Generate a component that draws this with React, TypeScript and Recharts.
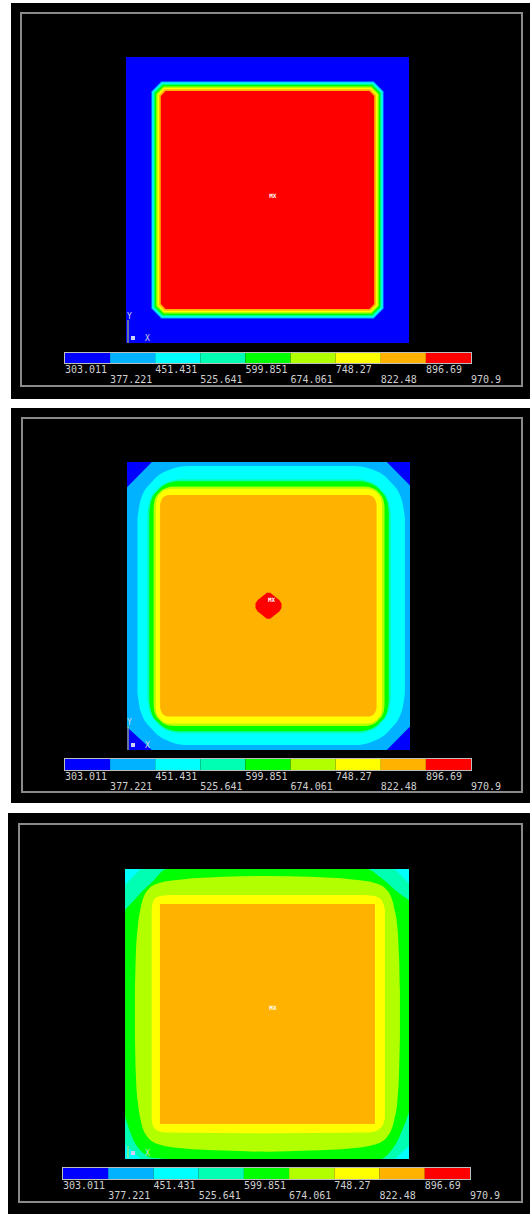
import React from 'react';
import { ComposedChart, Area, XAxis, YAxis, ReferenceDot } from 'recharts';

// contour levels (temperature) and the colour of each band between them
const LEVELS = [303.011, 377.221, 451.431, 525.641, 599.851, 674.061, 748.27, 822.48, 896.69, 970.9];
const LEVEL_LABELS = ['303.011', '377.221', '451.431', '525.641', '599.851', '674.061', '748.27', '822.48', '896.69', '970.9'];
const BAND_COLORS = ['#0000ff', '#00b2ff', '#00ffff', '#00ffb2', '#00ff00', '#b2ff00', '#ffff00', '#ffb200', '#ff0000'];

type Contour = { level: number; curve: 'linear' | 'monotoneX'; pts: number[][] };

// each contour: region where T >= level, given as [x, yLow, yHigh] on a 0..100 plate
const STEP1_CONTOURS: Contour[] = [
  { level: 0, curve: 'linear', pts: [[0, 0, 100], [100, 0, 100]] },
  { level: 1, curve: 'linear', pts: [[9.0, 12.1, 87.9], [12.5, 8.6, 91.4], [87.5, 8.6, 91.4], [91.0, 12.1, 87.9]] },
  { level: 2, curve: 'linear', pts: [[9.3, 12.2, 87.8], [12.6, 8.9, 91.1], [87.4, 8.9, 91.1], [90.7, 12.2, 87.8]] },
  { level: 3, curve: 'linear', pts: [[9.7, 12.4, 87.6], [12.8, 9.3, 90.7], [87.2, 9.3, 90.7], [90.3, 12.4, 87.6]] },
  { level: 4, curve: 'linear', pts: [[10.1, 12.6, 87.4], [13.0, 9.7, 90.3], [87.0, 9.7, 90.3], [89.9, 12.6, 87.4]] },
  { level: 5, curve: 'linear', pts: [[10.7, 12.9, 87.1], [13.3, 10.3, 89.7], [86.7, 10.3, 89.7], [89.3, 12.9, 87.1]] },
  { level: 6, curve: 'linear', pts: [[11.2, 13.1, 86.9], [13.5, 10.8, 89.2], [86.5, 10.8, 89.2], [88.8, 13.1, 86.9]] },
  { level: 7, curve: 'linear', pts: [[11.7, 13.3, 86.7], [13.7, 11.3, 88.7], [86.3, 11.3, 88.7], [88.3, 13.3, 86.7]] },
  { level: 8, curve: 'linear', pts: [[12.3, 13.6, 86.4], [14.0, 11.9, 88.1], [86.0, 11.9, 88.1], [87.7, 13.6, 86.4]] },
];

const STEP2_CONTOURS: Contour[] = [
  { level: 0, curve: 'linear', pts: [[0, 0, 100], [100, 0, 100]] },
  { level: 1, curve: 'linear', pts: [[0, 8.0, 91.2], [8.8, 0, 100], [91.8, 0, 100], [100, 8.2, 91.8]] },
  {
    level: 2, curve: 'monotoneX', pts: [
      [3.7, 19.7, 80.6], [4.8, 13.5, 86.8], [9.0, 7.0, 93.3], [15.5, 2.8, 97.5], [21.7, 1.7, 98.6],
      [80.2, 1.7, 98.6], [86.4, 2.8, 97.5], [92.9, 7.0, 93.3], [97.1, 13.5, 86.8], [98.2, 19.7, 80.6],
    ],
  },
  {
    level: 3, curve: 'monotoneX', pts: [
      [7.2, 17.8, 82.0], [7.9, 13.7, 86.1], [10.7, 9.3, 90.5], [15.1, 6.5, 93.3], [19.2, 5.8, 94.0],
      [81.2, 5.8, 94.0], [85.3, 6.5, 93.3], [89.7, 9.3, 90.5], [92.5, 13.7, 86.1], [93.2, 17.8, 82.0],
    ],
  },
  {
    level: 4, curve: 'monotoneX', pts: [
      [7.9, 17.0, 82.8], [8.5, 13.4, 86.4], [11.0, 9.6, 90.2], [14.8, 7.1, 92.7], [18.4, 6.5, 93.3],
      [82.0, 6.5, 93.3], [85.6, 7.1, 92.7], [89.4, 9.6, 90.2], [91.9, 13.4, 86.4], [92.5, 17.0, 82.8],
    ],
  },
  {
    level: 5, curve: 'monotoneX', pts: [
      [9.4, 15.3, 84.5], [9.8, 12.9, 86.9], [11.5, 10.4, 89.5], [14.0, 8.7, 91.1], [16.4, 8.3, 91.5],
      [84.0, 8.3, 91.5], [86.4, 8.7, 91.1], [88.9, 10.4, 89.5], [90.6, 12.9, 86.9], [91.0, 15.3, 84.5],
    ],
  },
  {
    level: 6, curve: 'monotoneX', pts: [
      [10.2, 14.7, 85.2], [10.5, 12.8, 87.1], [11.8, 10.8, 89.1], [13.8, 9.5, 90.4], [15.7, 9.2, 90.7],
      [84.6, 9.2, 90.7], [86.5, 9.5, 90.4], [88.5, 10.8, 89.1], [89.8, 12.8, 87.1], [90.1, 14.7, 85.2],
    ],
  },
  {
    level: 7, curve: 'monotoneX', pts: [
      [11.7, 14.6, 85.5], [12.6, 12.5, 87.6], [14.7, 11.6, 88.5],
      [85.2, 11.6, 88.5], [87.3, 12.5, 87.6], [88.2, 14.6, 85.5],
    ],
  },
  {
    level: 8, curve: 'linear', pts: [
      [45.4, 49.3, 50.9], [46.2, 48.1, 52.1], [49.4, 45.6, 54.6],
      [50.6, 45.6, 54.6], [53.8, 48.1, 52.1], [54.6, 49.3, 50.9],
    ],
  },
];

const STEP3_CONTOURS: Contour[] = [
  { level: 2, curve: 'linear', pts: [[0, 0, 100], [100, 0, 100]] },
  { level: 3, curve: 'linear', pts: [[0, 5.0, 94.5], [5.5, 0, 100], [95.0, 0, 100], [100, 4.5, 95.0]] },
  {
    level: 4, curve: 'monotoneX', pts: [
      [0, 14.6, 85.9], [3.5, 5.5, 89.6], [6.0, 2.4, 92.2], [9.5, 0.4, 95.4], [14.7, 0, 100],
      [85.1, 0, 100], [89.8, 0, 97.2], [93.5, 2.6, 94.2], [95.5, 5.4, 92.4], [100, 16.0, 89.3],
    ],
  },
  {
    level: 5, curve: 'monotoneX', pts: [
      [3.5, 42, 58], [3.8, 30, 70], [4.5, 20, 80], [5.5, 13.5, 86.5], [8.0, 7.5, 92.8], [12, 5.0, 95.2],
      [20, 3.7, 96.4], [35, 2.9, 97.3], [50, 2.5, 97.6], [65, 2.9, 97.3], [80, 3.7, 96.4], [88, 5.0, 95.2],
      [92.2, 7.5, 92.8], [94.8, 13.5, 86.5], [95.9, 20, 80], [96.5, 30, 70], [96.8, 42, 58],
    ],
  },
  {
    level: 6, curve: 'monotoneX', pts: [
      [9.4, 14, 86], [9.7, 12, 88.2], [10.6, 10.4, 89.9], [12.5, 9.4, 90.7], [16, 9.1, 91.0], [50, 8.9, 91.0],
      [84, 9.1, 91.0], [87.6, 9.4, 90.7], [89.6, 10.4, 89.9], [90.9, 12, 88.2], [91.5, 14, 86],
    ],
  },
  { level: 7, curve: 'linear', pts: [[12.3, 12.1, 87.9], [88.0, 12.1, 87.9]] },
];

// location of the "MX" marker on each plate
const STEP1_MAX = [51.9, 51.7];
const STEP2_MAX = [51.1, 52.1];
const STEP3_MAX = [52.1, 52.1];

const LAYOUT = [
  { bg: [11, 3, 519, 396], frame: [20, 12, 503, 375], plate: [126, 57, 283, 286], bar: [65, 353, 406, 10], triad: [128, 320, 343, true] },
  { bg: [11, 408, 519, 395], frame: [21, 417, 502, 376], plate: [127, 462, 283, 288], bar: [65, 759, 406, 11], triad: [128, 726, 750, true] },
  { bg: [8, 813, 522, 401], frame: [18, 823, 505, 380], plate: [125, 869, 284, 290], bar: [63, 1168, 407, 11], triad: [128, 1146, 1158, false] },
];

const MONO = "'DejaVu Sans Mono', 'Liberation Mono', monospace";

const BarTick = (props: any) => {
  const { x, y, index } = props;
  const row = index % 2;
  return (
    <text x={x} y={y + 10 + row * 10} fill="#cfcfcf" fontSize={10} fontFamily={MONO} textAnchor="start">
      {LEVEL_LABELS[index]}
    </text>
  );
};

// colour key: one filled range per band, from LEVELS[i] to LEVELS[i + 1]
function ColorBar({ x, y, w, h }: { x: number; y: number; w: number; h: number }) {
  return (
    <div style={{ position: 'absolute', left: x, top: y }}>
      <div
        style={{
          position: 'absolute',
          left: -1,
          top: -1,
          width: w + 2,
          height: h + 2,
          border: '1px solid #bdbdbd',
          boxSizing: 'border-box',
        }}
      />
      <ComposedChart width={w + 40} height={h + 24} margin={{ top: 0, right: 40, bottom: 0, left: 0 }}>
        <XAxis
          type="number"
          dataKey="v"
          domain={[LEVELS[0], LEVELS[LEVELS.length - 1]]}
          ticks={LEVELS}
          interval={0}
          axisLine={false}
          tickLine={false}
          tickSize={0}
          tickMargin={0}
          height={24}
          tick={BarTick}
          allowDataOverflow
        />
        <YAxis type="number" domain={[0, 1]} hide allowDataOverflow />
        {BAND_COLORS.map((c, i) => (
          <Area
            key={c}
            data={[
              { v: LEVELS[i], r: [0, 1] },
              { v: LEVELS[i + 1], r: [0, 1] },
            ]}
            dataKey="r"
            type="linear"
            fill={c}
            fillOpacity={1}
            stroke="none"
            dot={false}
            activeDot={false}
            isAnimationActive={false}
          />
        ))}
      </ComposedChart>
    </div>
  );
}

function Plate({ box, contours, mx }: { box: number[]; contours: Contour[]; mx: number[] }) {
  const [x, y, w, h] = box;
  return (
    <div style={{ position: 'absolute', left: x, top: y }}>
      <ComposedChart width={w} height={h} margin={{ top: 0, right: 0, bottom: 0, left: 0 }}>
        <XAxis type="number" dataKey="x" domain={[0, 100]} hide allowDataOverflow />
        <YAxis type="number" domain={[0, 100]} hide allowDataOverflow />
        {contours.map((c, i) => (
          <Area
            key={i}
            data={c.pts.map(([px, lo, hi]) => ({ x: px, r: [lo, hi] }))}
            dataKey="r"
            type={c.curve}
            fill={BAND_COLORS[c.level]}
            fillOpacity={1}
            stroke="none"
            dot={false}
            activeDot={false}
            isAnimationActive={false}
          />
        ))}
        <ReferenceDot
          x={mx[0]}
          y={mx[1]}
          r={0}
          shape={(p: any) => (
            <text x={p.cx} y={p.cy} fill="#ffffff" fontSize={6} fontWeight="bold" fontFamily={MONO} textAnchor="middle" dominantBaseline="central">
              MX
            </text>
          )}
        />
      </ComposedChart>
    </div>
  );
}

function Triad({ x, y0, y1, showY }: { x: number; y0: number; y1: number; showY: boolean }) {
  return (
    <svg style={{ position: 'absolute', left: 0, top: 0, overflow: 'visible' }} width={1} height={1}>
      {showY && (
        <text x={x - 1} y={y0 - 1} fill="#d8d8d8" fontSize={8} fontFamily={MONO}>
          Y
        </text>
      )}
      <line x1={x} x2={x} y1={y0} y2={y1} stroke="#c8e040" strokeWidth={1} />
      <rect x={x + 3} y={y1 - 7} width={4} height={4} fill="#d0d0ff" />
      <text x={x + 17} y={y1 - 2} fill="#d8d8d8" fontSize={8} fontFamily={MONO}>
        X
      </text>
    </svg>
  );
}

const STEPS = [
  { contours: STEP1_CONTOURS, mx: STEP1_MAX },
  { contours: STEP2_CONTOURS, mx: STEP2_MAX },
  { contours: STEP3_CONTOURS, mx: STEP3_MAX },
];

export default function App() {
  return (
    <div style={{ position: 'absolute', left: 0, top: 0, width: 530, height: 1214, background: '#ffffff', overflow: 'hidden' }}>
      {STEPS.map((s, i) => {
        const L = LAYOUT[i];
        const [bx, by, bw, bh] = L.bg;
        const [fx, fy, fw, fh] = L.frame;
        const [cx, cy, cw, ch] = L.bar;
        const [tx, t0, t1, showY] = L.triad as [number, number, number, boolean];
        return (
          <React.Fragment key={i}>
            <div style={{ position: 'absolute', left: bx, top: by, width: bw, height: bh, background: '#000000' }} />
            <div
              style={{
                position: 'absolute',
                left: fx,
                top: fy,
                width: fw,
                height: fh,
                border: '2px solid #8a8a8a',
                boxSizing: 'border-box',
              }}
            />
            <Plate box={L.plate} contours={s.contours} mx={s.mx} />
            <Triad x={tx} y0={t0} y1={t1} showY={showY} />
            <ColorBar x={cx} y={cy} w={cw} h={ch} />
          </React.Fragment>
        );
      })}
    </div>
  );
}
